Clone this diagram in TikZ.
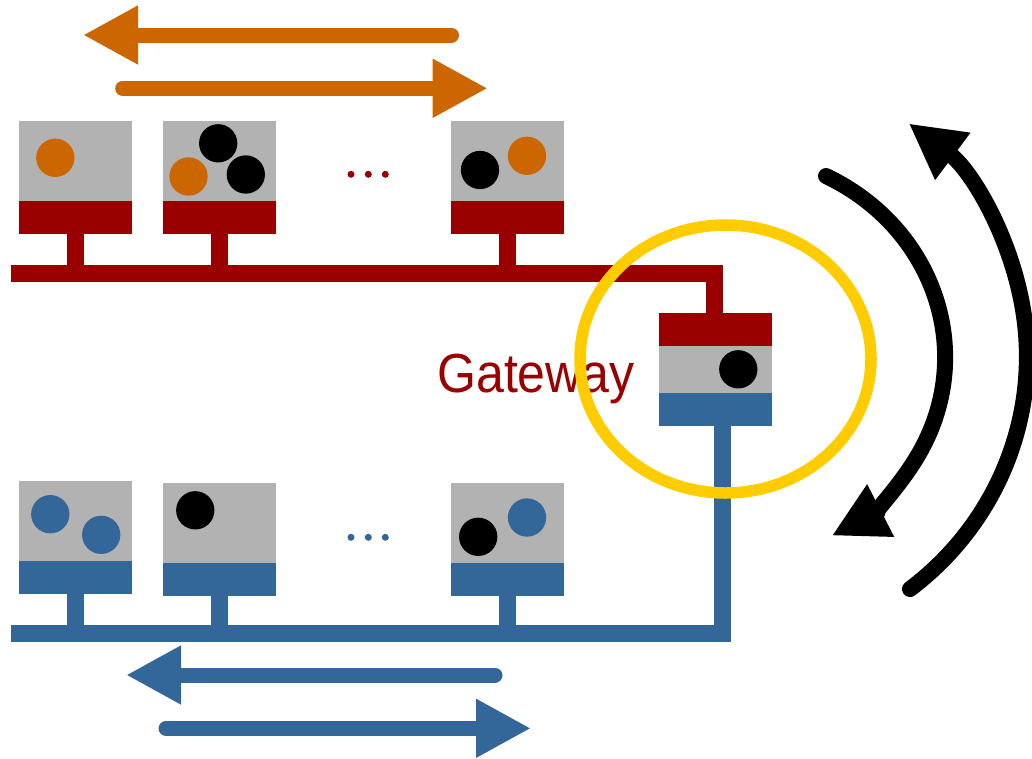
\documentclass[tikz,border=0pt]{standalone}
\usepackage{fontspec}
\newfontfamily\gwfont[FakeStretch=0.91]{Liberation Sans}
\usetikzlibrary{arrows.meta}
\definecolor{netred}{HTML}{990000}
\definecolor{netblue}{HTML}{336699}
\definecolor{netgray}{HTML}{B2B2B2}
\definecolor{netorange}{HTML}{CC6600}
\definecolor{netyellow}{HTML}{FFCC00}
\tikzset{
  graybox/.style={rectangle, fill=netgray, minimum width=113pt, minimum height=80pt, inner sep=0pt, outer sep=0pt},
  redbar/.style={rectangle, fill=netred, minimum width=113pt, minimum height=33pt, inner sep=0pt, outer sep=0pt},
  bluebar/.style={rectangle, fill=netblue, minimum width=113pt, minimum height=33pt, inner sep=0pt, outer sep=0pt},
  token/.style={circle, fill=#1, minimum size=38.3pt, inner sep=0pt, outer sep=0pt},
  ellip/.style={circle, fill=#1, minimum size=7pt, inner sep=0pt, outer sep=0pt},
  redbus/.style={draw=netred, line width=17pt},
  bluebus/.style={draw=netblue, line width=17pt},
  flowarrow/.style={draw=#1, line width=15pt, line cap=round, -{Triangle[length=55pt,width=55pt]}},
  swaparrow/.style={draw=black, line width=16pt, line cap=round, -{Triangle[length=55pt,width=55pt]}},
  highlight/.style={draw=netyellow, line width=11.5pt},
}
\begin{document}
\begin{tikzpicture}[x=1pt,y=-1pt]
\useasboundingbox (0,0) rectangle (1032,758);

% ---------- top (red) network ----------
\node[graybox] (t1) at (75.5,161) {};
\node[redbar, anchor=north] (t1b) at (t1.south) {};
\node[graybox] (t2) at (219.5,161) {};
\node[redbar, anchor=north] (t2b) at (t2.south) {};
\node[graybox] (t3) at (507.5,161) {};
\node[redbar, anchor=north] (t3b) at (t3.south) {};

\node[token=netorange] (t1o1) at (55.3,157.8) {};
\node[token=black] (t2k1) at (218.2,143.3) {};
\node[token=black] (t2k2) at (245.8,174.5) {};
\node[token=netorange] (t2o1) at (188.5,176.5) {};
\node[token=black] (t3k1) at (480,170) {};
\node[token=netorange] (t3o1) at (527,155.8) {};

\node[ellip=netred] (td1) at (351,174.3) {};
\node[ellip=netred] (td2) at (368.3,174.3) {};
\node[ellip=netred] (td3) at (385.3,174.3) {};

% ---------- gateway ----------
\node[rectangle, fill=netgray, minimum width=113pt, minimum height=46.7pt, inner sep=0pt, outer sep=0pt] (gw) at (715.5,369.3) {};
\node[redbar, anchor=south] (gwr) at (gw.north) {};
\node[bluebar, anchor=north] (gwb) at (gw.south) {};
\node[token=black] (gwk) at (738.3,369.3) {};

\coordinate (redbusL) at (11,273.5);
\draw[redbus] ([xshift=-1pt]gwr.north) |- (redbusL);
\draw[redbus] (t1b.south) -- (t1b.south |- redbusL);
\draw[redbus] (t2b.south) -- (t2b.south |- redbusL);
\draw[redbus] (t3b.south) -- (t3b.south |- redbusL);

% ---------- bottom (blue) network ----------
\node[graybox] (b1) at (75.5,521) {};
\node[bluebar, anchor=north] (b1b) at (b1.south) {};
\node[graybox] (b2) at (219.5,523) {};
\node[bluebar, anchor=north] (b2b) at (b2.south) {};
\node[graybox] (b3) at (507.5,523) {};
\node[bluebar, anchor=north] (b3b) at (b3.south) {};

\node[token=netblue] (b1u1) at (50.3,514.2) {};
\node[token=netblue] (b1u2) at (101.2,534.8) {};
\node[token=black] (b2k1) at (195.3,510.3) {};
\node[token=black] (b3k1) at (478.2,536.8) {};
\node[token=netblue] (b3u1) at (527,517.5) {};

\node[ellip=netblue] (bd1) at (351,537.3) {};
\node[ellip=netblue] (bd2) at (368.3,537.3) {};
\node[ellip=netblue] (bd3) at (385.3,537.3) {};

\coordinate (bluebusL) at (11,633.5);
\draw[bluebus] ([xshift=7pt]gwb.south) |- (bluebusL);
\draw[bluebus] (b1b.south) -- (b1b.south |- bluebusL);
\draw[bluebus] (b2b.south) -- (b2b.south |- bluebusL);
\draw[bluebus] (b3b.south) -- (b3b.south |- bluebusL);

% ---------- gateway label ----------
\node[anchor=base east, inner sep=0pt, text=netred, font=\gwfont\fontsize{55}{60}\selectfont] (gwlabel) at (635,392.7) {Gateway};

% ---------- flow arrows ----------
\coordinate (oa1s) at (451.5,35);
\coordinate (oa1e) at (83,35);
\draw[flowarrow=netorange] (oa1s) -- (oa1e);
\coordinate (oa2s) at (122.7,88.3);
\coordinate (oa2e) at (487.7,88.3);
\draw[flowarrow=netorange] (oa2s) -- (oa2e);
\coordinate (ba1s) at (495,675);
\coordinate (ba1e) at (126,675);
\draw[flowarrow=netblue] (ba1s) -- (ba1e);
\coordinate (ba2s) at (166,728.3);
\coordinate (ba2e) at (531,728.3);
\draw[flowarrow=netblue] (ba2s) -- (ba2e);

% ---------- curved arrows ----------
\coordinate (ia) at (826,176);
\draw[swaparrow] (ia) arc[start angle=-62.7, end angle=61, x radius=220, y radius=204];
\coordinate (oa) at (910,589);
\draw[swaparrow] (oa) arc[start angle=52.2, end angle=-52.5, x radius=302, y radius=294];

% ---------- highlight ellipse ----------
\coordinate (hlc) at (725.5,359);
\draw[highlight] (hlc) ellipse[x radius=145.5, y radius=134];
\end{tikzpicture}
\end{document}
